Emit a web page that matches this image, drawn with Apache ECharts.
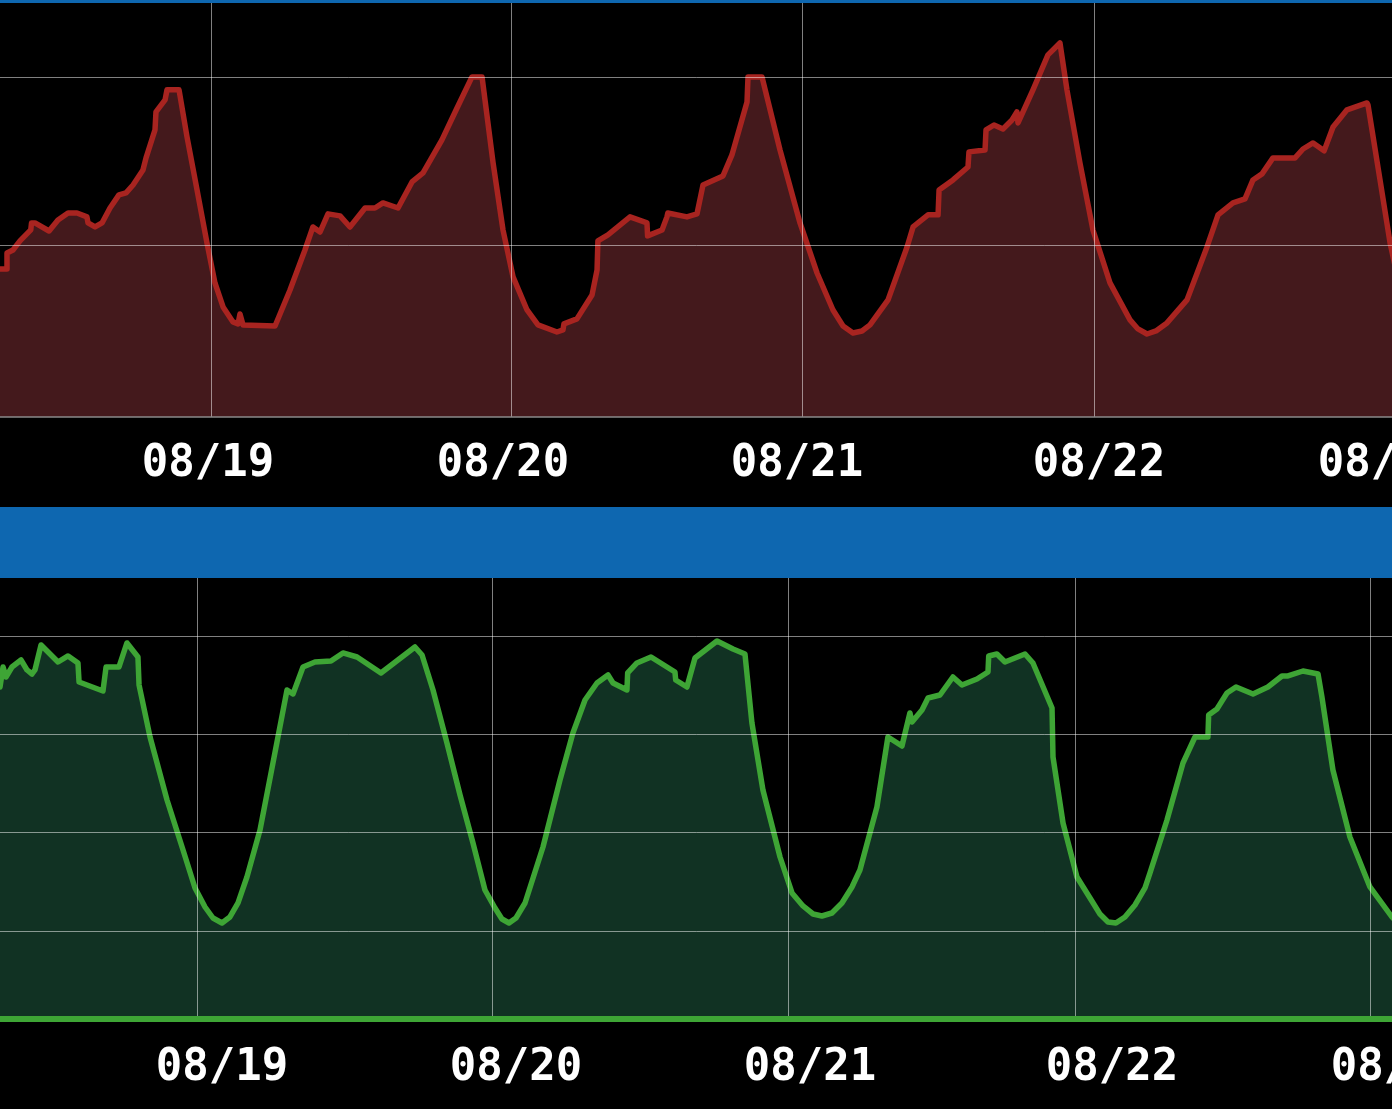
<!DOCTYPE html>
<html>
<head>
<meta charset="utf-8">
<script src="https://cdn.jsdelivr.net/npm/echarts@6/dist/echarts.min.js"></script>
<style>
    html, body { margin: 0; padding: 0; background: #000; }
    #chart { width: 1392px; height: 1109px; }
</style>
</head>
<body>
<div id="chart"></div>
<script>
    // hours counted from 08/18 00:00
    const redHours = [6.79, 7.36, 7.36, 7.85, 8.42, 9.30, 9.36, 9.64, 10.79, 11.52,
        12.34, 13.07, 13.88, 13.97, 14.54, 15.11, 15.76, 16.49, 17.07, 17.64,
        18.45, 18.70, 19.43, 19.51, 20.25, 20.41, 21.39, 22.04, 22.86, 23.67,
        24.32, 24.98, 25.79, 26.20, 26.36, 26.61, 29.22, 30.44, 31.66, 32.31,
        32.89, 33.54, 34.52, 35.33, 36.56, 37.37, 38.02, 39.25, 40.39, 41.29,
        42.83, 44.06, 45.28, 46.10, 47.00, 47.81, 48.63, 49.77, 50.66, 52.21,
        52.70, 52.78, 53.84, 55.07, 55.48, 55.55, 56.37, 58.17, 59.55, 59.60,
        60.78, 61.18, 61.25, 62.81, 63.63, 64.12, 65.75, 66.48, 67.71, 67.79,
        68.93, 70.40, 72.03, 73.42, 74.72, 75.54, 76.35, 77.09, 77.74, 79.21,
        80.76, 81.25, 82.47, 83.29, 83.37, 84.51, 85.73, 85.81, 87.12, 87.20,
        87.85, 88.58, 89.32, 89.72, 89.81, 91.03, 92.25, 93.23, 93.80, 94.86,
        95.92, 97.31, 98.94, 99.59, 100.33, 101.06, 101.96, 103.59, 105.22, 106.12,
        107.34, 108.32, 108.97, 109.71, 110.60, 112.40, 113.05, 113.87, 114.77, 115.50,
        116.64, 118.27, 118.35, 119.33, 120.15, 120.63];
    const redTemps = [18.57, 18.57, 19.52, 19.70, 20.24, 20.90, 21.31, 21.31, 20.83, 21.49,
        21.90, 21.90, 21.67, 21.31, 21.07, 21.31, 22.20, 22.98, 23.10, 23.57,
        24.46, 25.18, 26.85, 27.92, 28.63, 29.23, 29.23, 26.43, 23.27, 20.12,
        17.74, 16.31, 15.42, 15.30, 15.89, 15.24, 15.18, 17.32, 19.70, 21.07,
        20.77, 21.85, 21.73, 21.07, 22.20, 22.20, 22.50, 22.20, 23.75, 24.29,
        26.25, 28.15, 30.00, 30.00, 24.88, 20.89, 18.10, 16.13, 15.24, 14.82,
        14.94, 15.30, 15.60, 17.02, 18.51, 20.24, 20.60, 21.67, 21.31, 20.54,
        20.89, 21.67, 21.90, 21.67, 21.85, 23.57, 24.11, 25.36, 28.51, 30.00,
        30.00, 25.65, 21.31, 18.33, 16.13, 15.18, 14.76, 14.88, 15.24, 16.73,
        19.88, 21.07, 21.79, 21.79, 23.27, 23.87, 24.64, 25.54, 25.65, 26.85,
        27.14, 26.90, 27.44, 27.92, 27.26, 29.23, 31.31, 32.02, 29.23, 24.88,
        20.89, 17.74, 15.54, 15.00, 14.70, 14.88, 15.36, 16.73, 19.88, 21.79,
        22.50, 22.74, 23.87, 24.23, 25.18, 25.18, 25.71, 26.07, 25.60, 27.02,
        28.04, 28.45, 28.33, 23.87, 20.12, 18.51];

    const greenHours = [7.88, 8.13, 8.37, 8.86, 9.60, 10.09, 10.50, 10.74, 11.24, 12.63,
        13.45, 14.26, 14.35, 16.31, 16.56, 17.62, 18.27, 19.17, 19.26, 20.16,
        21.55, 22.86, 23.84, 24.66, 25.31, 26.05, 26.70, 27.36,
        28.09, 29.16, 30.22, 31.37, 31.86, 32.68, 33.66, 34.97, 35.95, 37.10,
        39.06, 41.84, 42.42, 43.32, 44.46, 45.53, 46.59,
        47.57, 48.39, 48.96, 49.54, 50.11, 50.85,
        52.32, 53.71, 54.77, 55.76, 56.74, 57.64, 58.05, 59.19, 59.25, 60.01,
        61.16, 63.12, 63.18, 64.10, 64.76, 66.56, 67.87, 68.85, 69.42, 70.32, 71.72,
        72.70, 73.60, 74.42, 75.15, 75.97, 76.79, 77.61,
        78.26, 79.65, 80.55, 81.70, 82.35, 82.52, 83.34, 83.83, 84.81, 85.87,
        86.61, 87.84, 88.74, 88.80, 89.47, 90.13, 91.77, 92.42, 93.98, 94.06, 94.88, 96.02,
        97.09, 97.90, 98.56, 99.21, 99.95, 100.77, 101.59,
        102.00, 103.39, 104.70, 105.68, 106.74, 106.80, 107.48, 108.30, 109.04, 110.43,
        111.65, 112.80, 113.29, 114.52, 115.75, 116.07, 116.97, 118.36, 120.00, 121.80, 122.50];
    const greenHumidity = [69.63, 73.70, 71.66, 73.70, 75.12, 73.09, 72.27, 73.09, 78.17, 74.71,
        75.94, 74.51, 70.65, 68.82, 73.70, 73.70, 78.58, 75.73, 70.04, 59.46,
        46.65, 36.48, 28.75, 24.88, 22.64, 21.63, 22.85, 25.70,
        30.98, 40.54, 54.17, 69.02, 68.21, 73.70, 74.71, 74.92, 76.55, 75.73,
        72.48, 77.77, 76.14, 69.02, 58.24, 47.66, 37.90,
        28.34, 24.68, 22.44, 21.63, 22.64, 25.70,
        37.09, 50.71, 60.27, 66.99, 70.44, 72.07, 70.44, 69.02, 72.48, 74.51,
        75.73, 72.68, 71.05, 69.63, 75.53, 78.99, 77.36, 76.34, 62.31, 48.68, 35.05,
        27.73, 25.09, 23.46, 23.05, 23.66, 25.70, 28.95,
        32.41, 45.22, 59.46, 57.63, 64.34, 62.51, 64.95, 67.39, 68.00, 71.66,
        70.04, 71.26, 72.68, 75.94, 76.34, 74.71, 76.34, 74.51, 65.36, 55.39, 41.97, 30.98,
        26.71, 23.46, 21.83, 21.63, 22.85, 25.29, 28.75,
        31.80, 42.58, 54.17, 59.46, 59.46, 63.93, 65.15, 68.41, 69.63, 68.21,
        69.63, 71.87, 71.87, 72.88, 72.27, 67.60, 52.75, 39.12, 28.95, 22.85, 21.00];

    const dayLabels = ['08/19', '08/20', '08/21', '08/22', '08/23'];
    const redLabelHours = [23.75, 47.81, 71.79, 96.41, 119.66];
    const redGridHours = [24, 48.46, 72.20, 96.01];
    const greenLabelHours = [26.05, 50.11, 74.17, 98.89, 122.21];
    const greenGridHours = [24, 48.14, 72.37, 95.86, 120];
    const redGridValues = [20, 30];
    const greenGridValues = [20, 40, 60, 80];

    const GridColor = 'rgba(255,255,255,0.5)';
    const LabelFont = '"DejaVu Sans Mono", monospace';

    function zip(xs, ys) {
        return xs.map((x, i) => [x, ys[i]]);
    }

    function nearestLabel(hours) {
        return function (v) {
            let best = 0;
            hours.forEach((h, i) => {
                if (Math.abs(h - v) < Math.abs(hours[best] - v)) best = i;
            });
            return dayLabels[best];
        };
    }

    function xAxisFor(idx, min, max, gridHours, labelHours, lineColor, lineWidth, margin) {
        return {
            type: 'value',
            gridIndex: idx,
            min: min,
            max: max,
            z: 5,
            axisLine: {show: true, onZero: false, lineStyle: {color: lineColor, width: lineWidth}},
            axisTick: {show: false, customValues: gridHours},
            splitLine: {show: true, lineStyle: {color: GridColor, width: 1}},
            axisLabel: {
                customValues: labelHours,
                formatter: nearestLabel(labelHours),
                color: '#fff',
                fontFamily: LabelFont,
                fontWeight: 'bold',
                fontSize: 44,
                margin: margin
            }
        };
    }

    function yAxisFor(idx, min, max, gridValues) {
        return {
            type: 'value',
            gridIndex: idx,
            min: min,
            max: max,
            z: 5,
            axisLine: {show: false},
            axisTick: {show: false, customValues: gridValues},
            axisLabel: {show: false},
            splitLine: {show: true, lineStyle: {color: GridColor, width: 1}}
        };
    }

    function areaSeries(idx, data, lineColor, fillColor) {
        return {
            type: 'line',
            xAxisIndex: idx,
            yAxisIndex: idx,
            data: data,
            showSymbol: false,
            smooth: false,
            z: 1,
            lineStyle: {color: lineColor, width: 5.5, cap: 'round', join: 'round'},
            areaStyle: {color: fillColor, opacity: 1, origin: 'start'}
        };
    }

    const chart = echarts.init(document.getElementById('chart'), null, {renderer: 'canvas'});
    chart.setOption({
        backgroundColor: '#000',
        animation: false,
        graphic: [
            {type: 'rect', shape: {x: 0, y: 0, width: 1392, height: 3}, style: {fill: '#0e67b0'}, z: 10},
            {type: 'rect', shape: {x: 0, y: 507, width: 1392, height: 71}, style: {fill: '#0e67b0'}, z: 10}
        ],
        grid: [
            {left: 0, right: -8, top: 3, height: 414, containLabel: false, outerBoundsMode: 'none'},
            {left: 0, right: -8, top: 577, height: 442, containLabel: false, outerBoundsMode: 'none'}
        ],
        xAxis: [
            xAxisFor(0, 6.79, 120.96, redGridHours, redLabelHours, '#8a8a8a', 1.5, 26),
            xAxisFor(1, 7.88, 122.46, greenGridHours, greenLabelHours, '#3ea535', 6, 28)
        ],
        yAxis: [
            yAxisFor(0, 9.76, 34.4, redGridValues),
            yAxisFor(1, 2.1, 92.0, greenGridValues)
        ],
        series: [
            areaSeries(0, zip(redHours, redTemps), '#a82420', '#44191c'),
            areaSeries(1, zip(greenHours, greenHumidity), '#3ea535', '#113223')
        ]
    });
</script>
</body>
</html>
